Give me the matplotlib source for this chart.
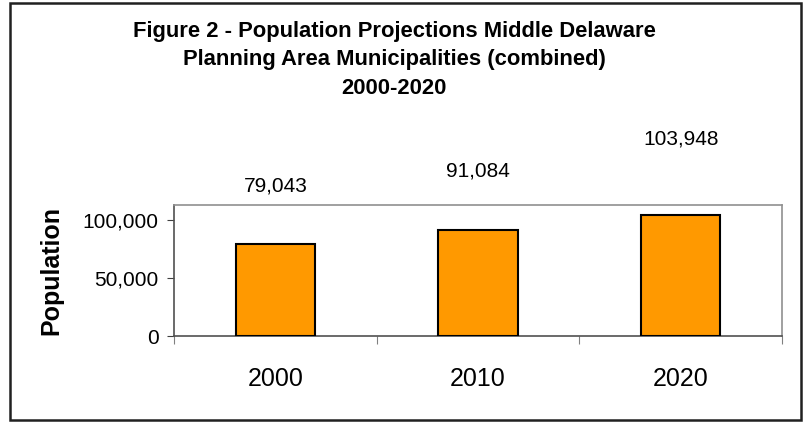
import numpy as np
import matplotlib.pyplot as plt
from matplotlib.patches import Rectangle
from matplotlib.ticker import FuncFormatter

plt.rcParams['font.family'] = ['Liberation Sans', 'DejaVu Sans']

years = ["2000", "2010", "2020"]
population = [79043, 91084, 103948]
value_labels = ["79,043", "91,084", "103,948"]
y_ticks = [0, 50000, 100000]

# how far (in points) each value label sits above its bar
label_offsets = [42, 43, 55]

fig = plt.figure(figsize=(8.05, 4.22), dpi=100)
fig.patches.append(Rectangle((10 / 805, 2 / 422), 791 / 805, 417 / 422,
                             transform=fig.transFigure, fill=False,
                             edgecolor="#202020", linewidth=1.8))

ax = fig.add_axes([174 / 805, 1 - 336 / 422, 608 / 805, 131 / 422])
x = np.arange(len(years))
bars = ax.bar(x, population, width=0.39, color="#FF9900",
              edgecolor="black", linewidth=1.5, zorder=3)

for xi, v, lab, off in zip(x, population, value_labels, label_offsets):
    ax.annotate(lab, (xi, v), xytext=(0, off), textcoords="offset points",
                ha="center", va="center", fontsize=15, annotation_clip=False)

ax.set_xlim(-0.5, len(years) - 0.5)
ax.set_ylim(0, 113000)
ax.set_yticks(y_ticks)
ax.yaxis.set_major_formatter(FuncFormatter(lambda v, p: f"{int(v):,}"))
ax.tick_params(axis="y", labelsize=15, length=5, color="#404040", pad=6)

ax.set_xticks(np.arange(len(years) + 1) - 0.5)
ax.set_xticklabels([])
ax.tick_params(axis="x", which="major", length=6, color="#808080")
ax.set_xticks(x, minor=True)
ax.set_xticklabels(years, minor=True)
ax.tick_params(axis="x", which="minor", length=0, labelsize=18, pad=22)

for s in ax.spines.values():
    s.set_color("#909090")
    s.set_linewidth(1.2)
ax.spines["bottom"].set_color("#505050")
ax.spines["left"].set_color("#505050")

ax.set_ylabel("Population", fontsize=18, fontweight="bold", labelpad=14)

title_lines = ["Figure 2 - Population Projections Middle Delaware",
               "Planning Area Municipalities (combined)",
               "2000-2020"]
for i, line in enumerate(title_lines):
    fig.text(394 / 805, 1 - (32 + 28 * i) / 422, line, ha="center", va="center",
             fontsize=15.8, fontweight="bold")

fig.savefig("out.png", dpi=100)
